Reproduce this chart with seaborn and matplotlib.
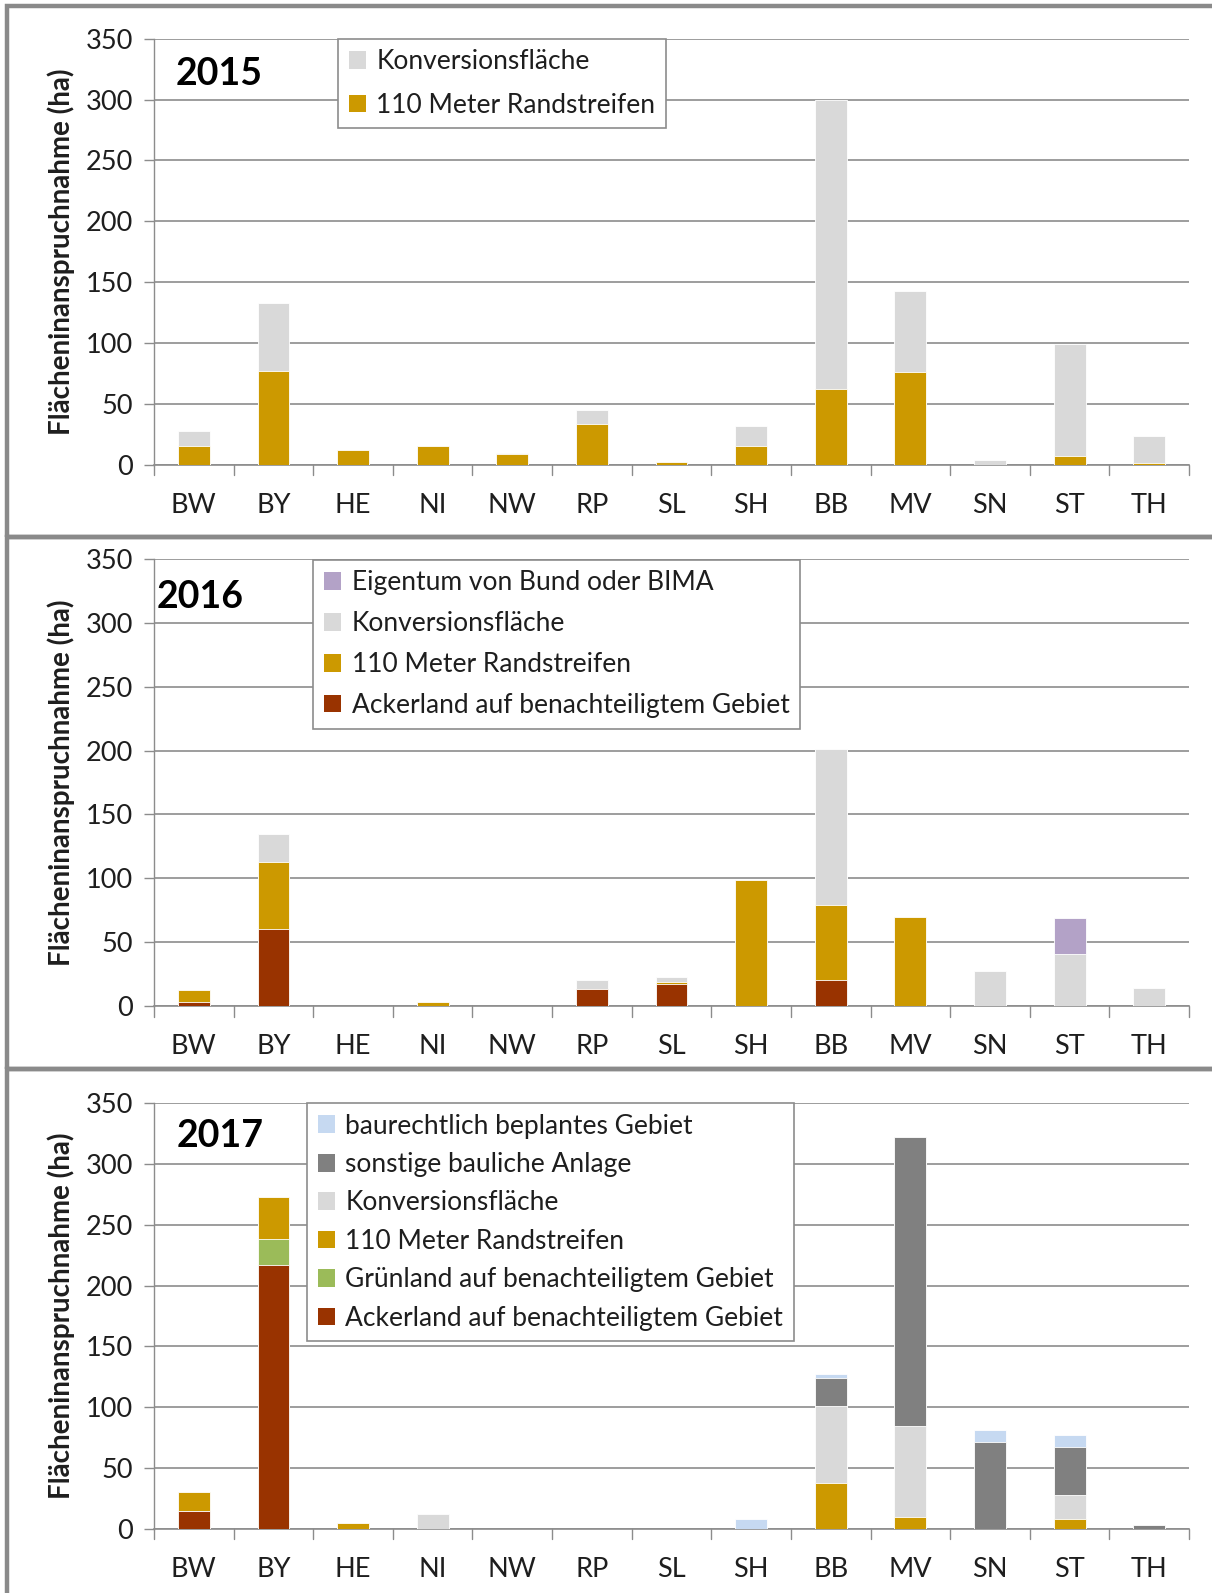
import numpy as np
import pandas as pd
import seaborn as sns
import matplotlib
matplotlib.use("Agg")
import matplotlib.pyplot as plt
from matplotlib.patches import Patch, Rectangle

# ---------------- data ----------------
states = ["BW", "BY", "HE", "NI", "NW", "RP", "SL", "SH", "BB", "MV", "SN", "ST", "TH"]
years = ["2015", "2016", "2017"]

# 2015
r15_rand = [16, 77, 12, 16, 9, 34, 2.3, 16, 62, 76, 0, 7.6, 1.4]
r15_konv = [12, 56, 0, 0, 1, 11, 0, 16, 238, 67, 4.2, 92, 22]

# 2016
r16_acker = [3, 60, 0, 0, 0, 13.5, 17, 0, 20.5, 0, 0, 0, 0]
r16_rand = [9.5, 53, 0, 3.2, 0, 0, 2, 99, 58.7, 69.7, 0, 0, 0]
r16_konv = [0, 22, 0, 0, 0, 7, 4, 0, 122.4, 0, 27.6, 41, 14.3]
r16_eig = [0, 0, 0, 0, 0, 0, 0, 0, 0, 0, 0, 28, 0]

# 2017
r17_acker = [15, 217, 0, 0, 0, 0, 0, 0, 0, 0, 0, 0, 0]
r17_gruen = [0, 21, 0, 0, 0, 0, 0, 0, 0, 0, 0, 0, 0]
r17_rand = [15, 35, 4.7, 0, 0, 0, 0, 0, 38, 10, 0, 8.6, 0]
r17_konv = [0, 0, 0, 12, 0, 0, 0, 0, 63, 74.5, 0, 19.7, 0]
r17_sonst = [0, 0, 0, 0, 0, 0, 0, 0, 23, 237.5, 71.4, 39.2, 3.3]
r17_baur = [0, 0, 0, 0, 0, 0, 0, 8.3, 3.6, 0, 9.7, 9.5, 0]

yticks = [0, 50, 100, 150, 200, 250, 300, 350]
ylabel = "Flächeninanspruchnahme (ha)"

lbl_baur = "baurechtlich beplantes Gebiet"
lbl_sonst = "sonstige bauliche Anlage"
lbl_eig = "Eigentum von Bund oder BIMA"
lbl_konv = "Konversionsfläche"
lbl_rand = "110 Meter Randstreifen"
lbl_gruen = "Grünland auf benachteiligtem Gebiet"
lbl_acker = "Ackerland auf benachteiligtem Gebiet"

colors = {
    lbl_baur: "#C6D9F1",
    lbl_sonst: "#808080",
    lbl_eig: "#B3A2C7",
    lbl_konv: "#D9D9D9",
    lbl_rand: "#CC9900",
    lbl_gruen: "#9BBB59",
    lbl_acker: "#993300",
}

# layers bottom -> top ; legend anchor ; label spacing ; year position
panels = [
    ("2015", [(lbl_rand, r15_rand), (lbl_konv, r15_konv)],
     (0.178, 1.0), 0.7, 0.021, 0.918),
    ("2016", [(lbl_acker, r16_acker), (lbl_rand, r16_rand), (lbl_konv, r16_konv), (lbl_eig, r16_eig)],
     (0.154, 0.998), 0.6, 0.003, 0.914),
    ("2017", [(lbl_acker, r17_acker), (lbl_gruen, r17_gruen), (lbl_rand, r17_rand),
              (lbl_konv, r17_konv), (lbl_sonst, r17_sonst), (lbl_baur, r17_baur)],
     (0.148, 1.0), 0.51, 0.022, 0.922),
]

# ---------------- style ----------------
sns.set_theme(style="white")
plt.rcParams["font.family"] = ["Lato", "DejaVu Sans"]
GRID = "#8C8C8C"
TXT = "#1e1e1e"

fig = plt.figure(figsize=(12.12, 15.93), dpi=100)
W, H = 1212, 1593

# axes boxes in pixels: (left, right, top(350), bottom(0))
boxes = [(154, 1189, 38.6, 465), (154, 1189, 559, 1006), (154, 1189, 1103, 1529)]

# panel frames
frame_tops = [6, 537, 1069]
frame_bots = [537, 1069, 1600]
for t, b in zip(frame_tops, frame_bots):
    fig.add_artist(Rectangle((7 / W, 1 - b / H), 1.2, (b - t) / H, transform=fig.transFigure,
                             fill=False, edgecolor="#8A8A8A", linewidth=3.2, zorder=10))

for (year, layers, leg_anchor, lspace, yx, yy), (l, r, t, b) in zip(panels, boxes):
    ax = fig.add_axes([l / W, 1 - b / H, (r - l) / W, (b - t) / H])
    n = len(layers)
    vals = np.array([lay[1] for lay in layers], dtype=float)
    cum = np.cumsum(vals, axis=0)
    # draw from the top of the stack downwards so lower segments overdraw
    for i in range(n - 1, -1, -1):
        lab = layers[i][0]
        df = pd.DataFrame({"state": states, "value": cum[i]})
        sns.barplot(data=df, x="state", y="value", color=colors[lab], order=states,
                    width=0.4, edgecolor="white", linewidth=0.6, saturation=1,
                    ax=ax, zorder=3, errorbar=None)
    ax.set_ylim(0, 350)
    ax.set_xlim(-0.5, len(states) - 0.5)
    ax.set_yticks(yticks)
    ax.set_yticklabels([str(v) for v in yticks], fontsize=19.5, color=TXT)
    ax.set_xticks(range(len(states)))
    ax.set_xticklabels(states, fontsize=19.5, color=TXT)
    ax.tick_params(axis="x", length=0, pad=20)
    ax.tick_params(axis="y", length=7, width=1, color=GRID, pad=8, left=True)
    # category boundary ticks on x axis
    for k in range(len(states) + 1):
        ax.plot([k - 0.5, k - 0.5], [0, -0.024], transform=ax.get_xaxis_transform(),
                color=GRID, lw=1, clip_on=False, zorder=4)
    ax.grid(axis="y", color=GRID, linewidth=1.2, zorder=0)
    ax.set_axisbelow(True)
    for s in ["top", "right"]:
        ax.spines[s].set_visible(False)
    ax.spines["left"].set_color(GRID)
    ax.spines["bottom"].set_color(GRID)
    ax.spines["left"].set_linewidth(1)
    ax.spines["bottom"].set_linewidth(1.2)
    ax.set_xlabel("")
    ax.set_ylabel(ylabel, fontsize=20, fontweight="bold", color=TXT, labelpad=8)
    ax.text(yx, yy, year, transform=ax.transAxes, fontsize=27, fontweight="bold",
            ha="left", va="center", color="black")
    handles = [Patch(facecolor=colors[lab], edgecolor="none", label=lab)
               for lab, _ in layers[::-1]]
    leg = ax.legend(handles=handles, loc="upper left", bbox_to_anchor=leg_anchor,
                    fontsize=19, frameon=True, fancybox=False, framealpha=1,
                    edgecolor=GRID, handlelength=0.65, handleheight=0.65,
                    handletextpad=0.4, labelspacing=lspace, borderpad=0.4,
                    borderaxespad=0)
    for txt in leg.get_texts():
        txt.set_color(TXT)
    leg.get_frame().set_linewidth(1.2)
    leg.set_zorder(6)

fig.savefig("out.png", dpi=100)
